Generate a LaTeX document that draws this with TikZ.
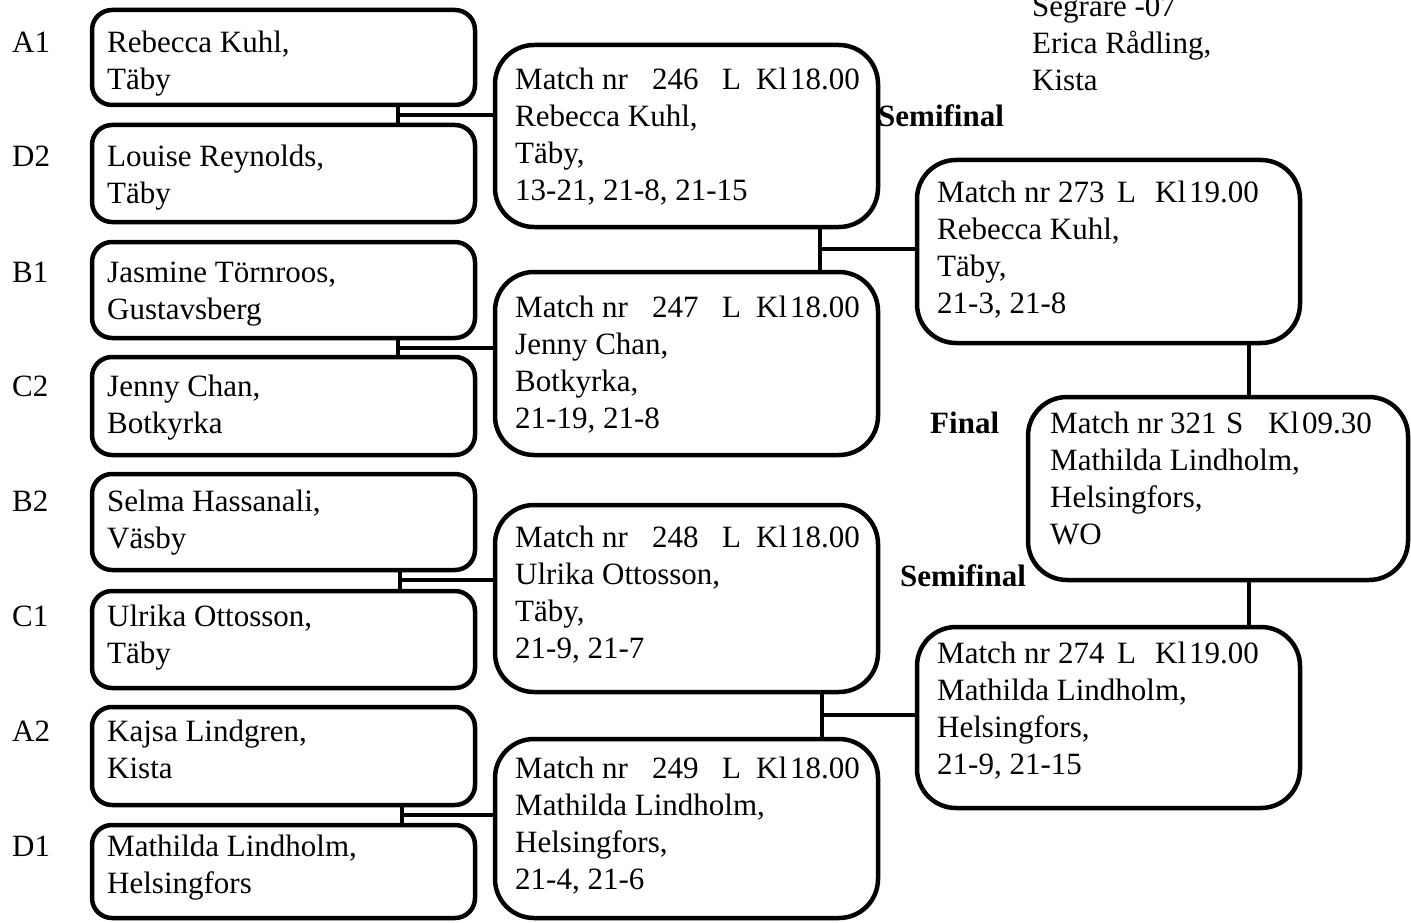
\documentclass[tikz,border=0pt]{standalone}
\usepackage{fontspec}
\setmainfont{Liberation Serif}
\usetikzlibrary{fit,calc}
\newcommand\tb[1]{\begin{tabular}[t]{@{}l@{}}#1\end{tabular}}
\newcommand\mh[6]{\rlap{Match nr}\rlap{\hspace*{#1pt}#2}\rlap{\hspace*{#3pt}#4}\rlap{\hspace*{#5pt}Kl\hspace{3pt}#6}}
\begin{document}
\begin{tikzpicture}[x=1pt,y=-1pt,
 pbox/.style={draw, line width=4.5pt, rounded corners=20pt, inner sep=0pt},
 mbox/.style={draw, line width=4.5pt, rounded corners=39pt, inner sep=0pt},
 txt/.style={anchor=base west, inner sep=0pt, font=\fontsize{31}{37}\selectfont},
 btxt/.style={anchor=base west, inner sep=0pt, font=\fontsize{31}{37}\selectfont\bfseries},
 conn/.style={line width=4.5pt}]
\useasboundingbox (0,0) rectangle (1411,923);

% player boxes
\node[pbox, fit={(92,10) (475,105)}] (A1) {};
\node[pbox, fit={(92,125) (475,222)}] (D2) {};
\node[pbox, fit={(92,242) (475,338)}] (B1) {};
\node[pbox, fit={(92,357) (475,455)}] (C2) {};
\node[pbox, fit={(92,474) (475,570)}] (B2) {};
\node[pbox, fit={(92,591) (475,688)}] (C1) {};
\node[pbox, fit={(92,707) (475,805)}] (A2) {};
\node[pbox, fit={(92,825) (475,918)}] (D1) {};

% match boxes
\node[mbox, fit={(495,45) (878,227)}] (M246) {};
\node[mbox, fit={(495,272) (878,455)}] (M247) {};
\node[mbox, fit={(495,505) (878,692)}] (M248) {};
\node[mbox, fit={(495,739) (878,918)}] (M249) {};
\node[mbox, fit={(917,160) (1300,343)}] (M273) {};
\node[mbox, fit={(917,627) (1300,808)}] (M274) {};
\node[mbox, fit={(1028,397) (1408,580)}] (M321) {};

% connectors
\coordinate (j1) at (398,115);
\coordinate (j2) at (398,348);
\coordinate (j3) at (400,580);
\coordinate (j4) at (402,815);
\coordinate (j5) at (820,249);
\coordinate (j6) at (822,715);
\coordinate (j7) at (1249,370);
\coordinate (j8) at (1249,600);
\draw[conn] (j1 |- A1.south) -- (j1 |- D2.north); \draw[conn] (j1) -- (j1 -| M246.west);
\draw[conn] (j2 |- B1.south) -- (j2 |- C2.north); \draw[conn] (j2) -- (j2 -| M247.west);
\draw[conn] (j3 |- B2.south) -- (j3 |- C1.north); \draw[conn] (j3) -- (j3 -| M248.west);
\draw[conn] (j4 |- A2.south) -- (j4 |- D1.north); \draw[conn] (j4) -- (j4 -| M249.west);
\draw[conn] (j5 |- M246.south) -- (j5 |- M247.north); \draw[conn] (j5) -- (j5 -| M273.west);
\draw[conn] (j6 |- M248.south) -- (j6 |- M249.north); \draw[conn] (j6) -- (j6 -| M274.west);
\draw[conn] (j7 |- M273.south) -- (j7 |- M321.north);
\draw[conn] (j8 |- M321.south) -- (j8 |- M274.north);

% seed labels
\node[txt] (lA1) at (12,53) {A1};
\node[txt] (lD2) at (12,167) {D2};
\node[txt] (lB1) at (12,282) {B1};
\node[txt] (lC2) at (12,396) {C2};
\node[txt] (lB2) at (12,511) {B2};
\node[txt] (lC1) at (12,626) {C1};
\node[txt] (lA2) at (12,741) {A2};
\node[txt] (lD1) at (12,856) {D1};

% player texts
\node[txt] (tA1) at (107,53) {\tb{Rebecca Kuhl,\\Täby}};
\node[txt] (tD2) at (107,167) {\tb{Louise Reynolds,\\Täby}};
\node[txt] (tB1) at (107,282) {\tb{Jasmine Törnroos,\\Gustavsberg}};
\node[txt] (tC2) at (107,396) {\tb{Jenny Chan,\\Botkyrka}};
\node[txt] (tB2) at (107,511) {\tb{Selma Hassanali,\\Väsby}};
\node[txt] (tC1) at (107,626) {\tb{Ulrika Ottosson,\\Täby}};
\node[txt] (tA2) at (107,741) {\tb{Kajsa Lindgren,\\Kista}};
\node[txt] (tD1) at (107,856) {\tb{Mathilda Lindholm,\\Helsingfors}};

% match texts
\node[txt] (t246) at (515,90) {\tb{\mh{137}{246}{207}{L}{241}{18.00}\\Rebecca Kuhl,\\Täby,\\13-21, 21-8, 21-15}};
\node[txt] (t247) at (515,317) {\tb{\mh{137}{247}{207}{L}{241}{18.00}\\Jenny Chan,\\Botkyrka,\\21-19, 21-8}};
\node[txt] (t248) at (515,547) {\tb{\mh{137}{248}{207}{L}{241}{18.00}\\Ulrika Ottosson,\\Täby,\\21-9, 21-7}};
\node[txt] (t249) at (515,778) {\tb{\mh{137}{249}{207}{L}{241}{18.00}\\Mathilda Lindholm,\\Helsingfors,\\21-4, 21-6}};
\node[txt] (t273) at (937,202) {\tb{\mh{121}{273}{180}{L}{218}{19.00}\\Rebecca Kuhl,\\Täby,\\21-3, 21-8}};
\node[txt] (t274) at (937,663) {\tb{\mh{121}{274}{180}{L}{218}{19.00}\\Mathilda Lindholm,\\Helsingfors,\\21-9, 21-15}};
\node[txt] (t321) at (1050,433) {\tb{\mh{120}{321}{176}{S}{218}{09.30}\\Mathilda Lindholm,\\Helsingfors,\\WO}};

% round labels
\node[btxt] (semi1) at (878,127) {Semifinal};
\node[btxt] (final) at (930,433) {Final};
\node[btxt] (semi2) at (900,586) {Semifinal};

% winner
\node[txt] (win) at (1032,17) {\tb{Segrare -07\\Erica Rådling,\\Kista}};
\end{tikzpicture}
\end{document}
